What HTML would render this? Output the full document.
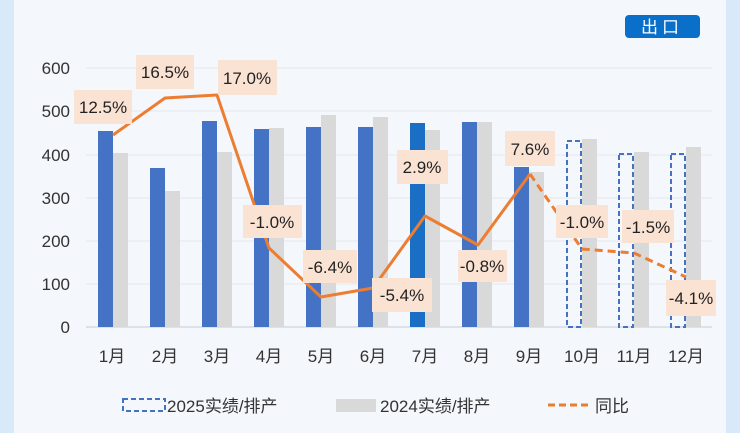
<!DOCTYPE html>
<html><head><meta charset="utf-8"><style>
body{margin:0;width:740px;height:433px;overflow:hidden;background:#d8eaf9;}
svg{display:block}
text{font-family:"Liberation Sans","Noto Sans CJK SC",sans-serif;}
</style></head><body>
<svg width="740" height="433" viewBox="0 0 740 433">
<rect x="14" y="0" width="712" height="433" fill="#f4f7fb"/>
<rect x="625" y="15" width="75" height="23" rx="4" fill="#0a6fc9"/>
<text x="662" y="33" font-size="17" fill="#fff" text-anchor="middle" letter-spacing="4">出口</text>
<g stroke="#e3e7ee" stroke-width="1">
<line x1="86" x2="712" y1="68" y2="68"/><line x1="86" x2="712" y1="111" y2="111"/>
<line x1="86" x2="712" y1="155" y2="155"/><line x1="86" x2="712" y1="198" y2="198"/>
<line x1="86" x2="712" y1="241" y2="241"/><line x1="86" x2="712" y1="284" y2="284"/>
<line x1="86" x2="712" y1="327" y2="327" stroke="#d5dae2" stroke-width="1.5"/>
</g>
<g font-size="17" fill="#333" text-anchor="end">
<text x="70" y="74">600</text><text x="70" y="117">500</text><text x="70" y="161">400</text>
<text x="70" y="204">300</text><text x="70" y="247">200</text><text x="70" y="290">100</text><text x="70" y="333">0</text>
</g>
<g fill="#4472c4">
<rect x="98" y="131" width="15" height="196"/>
<rect x="150" y="168" width="15" height="159"/>
<rect x="202" y="121" width="15" height="206"/>
<rect x="254" y="129" width="15" height="198"/>
<rect x="306" y="127" width="15" height="200"/>
<rect x="358" y="127" width="15" height="200"/>
<rect x="410" y="123" width="15" height="204" fill="#1a6fc4"/>
<rect x="462" y="122" width="15" height="205"/>
<rect x="514" y="167" width="15" height="160"/>
</g>
<g fill="none" stroke="#4472c4" stroke-width="2" stroke-dasharray="5,3">
<rect x="567" y="141" width="14" height="186"/>
<rect x="619" y="154" width="14" height="173"/>
<rect x="671" y="154" width="14" height="173"/>
</g>
<g fill="#d9d9d9">
<rect x="113" y="153" width="15" height="174"/>
<rect x="165" y="191" width="15" height="136"/>
<rect x="217" y="152" width="15" height="175"/>
<rect x="269" y="128" width="15" height="199"/>
<rect x="321" y="115" width="15" height="212"/>
<rect x="373" y="117" width="15" height="210"/>
<rect x="425" y="130" width="15" height="197"/>
<rect x="477" y="122" width="15" height="205"/>
<rect x="529" y="172" width="15" height="155"/>
<rect x="582" y="139" width="15" height="188"/>
<rect x="634" y="152" width="15" height="175"/>
<rect x="686" y="147" width="15" height="180"/>
</g>
<polyline points="113,135 165,98 217,95 269,248 321,297 373,288 425,216 478,245 530,174" fill="none" stroke="#ed7d31" stroke-width="3" stroke-linejoin="round"/>
<polyline points="530,174 582,249 634,253 686,277" fill="none" stroke="#ed7d31" stroke-width="3" stroke-dasharray="8,5"/>
<g fill="#fbe3d4">
<rect x="74" y="90" width="58" height="34"/><rect x="136" y="55" width="58" height="34"/>
<rect x="218" y="60" width="59" height="35"/><rect x="243" y="205" width="59" height="33"/>
<rect x="303" y="250" width="54" height="33"/><rect x="372" y="278" width="60" height="34"/>
<rect x="397" y="150" width="51" height="34"/><rect x="458" y="250" width="49" height="32"/>
<rect x="505" y="131" width="50" height="35"/><rect x="556" y="205" width="52" height="33"/>
<rect x="622" y="210" width="52" height="33"/><rect x="666" y="280" width="50" height="36"/>
</g>
<g font-size="17" fill="#222" text-anchor="middle">
<text x="103" y="113">12.5%</text><text x="165" y="78">16.5%</text><text x="247" y="84">17.0%</text>
<text x="272" y="228">-1.0%</text><text x="330" y="273">-6.4%</text><text x="402" y="301">-5.4%</text>
<text x="422" y="173">2.9%</text><text x="482" y="272">-0.8%</text><text x="530" y="155">7.6%</text>
<text x="582" y="228">-1.0%</text><text x="648" y="233">-1.5%</text><text x="691" y="304">-4.1%</text>
</g>
<g font-size="17" fill="#333" text-anchor="middle">
<text x="112" y="362">1月</text><text x="165" y="362">2月</text><text x="217" y="362">3月</text>
<text x="269" y="362">4月</text><text x="321" y="362">5月</text><text x="373" y="362">6月</text>
<text x="425" y="362">7月</text><text x="477" y="362">8月</text><text x="529" y="362">9月</text>
<text x="582" y="362">10月</text><text x="634" y="362">11月</text><text x="686" y="362">12月</text>
</g>
<rect x="123" y="399" width="42" height="12" fill="none" stroke="#4472c4" stroke-width="2" stroke-dasharray="5,3"/>
<text x="167" y="412" font-size="17" fill="#333">2025实绩/排产</text>
<rect x="336" y="399" width="40" height="13" fill="#d9d9d9"/>
<text x="380" y="412" font-size="17" fill="#333">2024实绩/排产</text>
<line x1="548" x2="588" y1="405" y2="405" stroke="#ed7d31" stroke-width="3" stroke-dasharray="7,4"/>
<text x="595" y="412" font-size="17" fill="#333">同比</text>
</svg>
</body></html>
